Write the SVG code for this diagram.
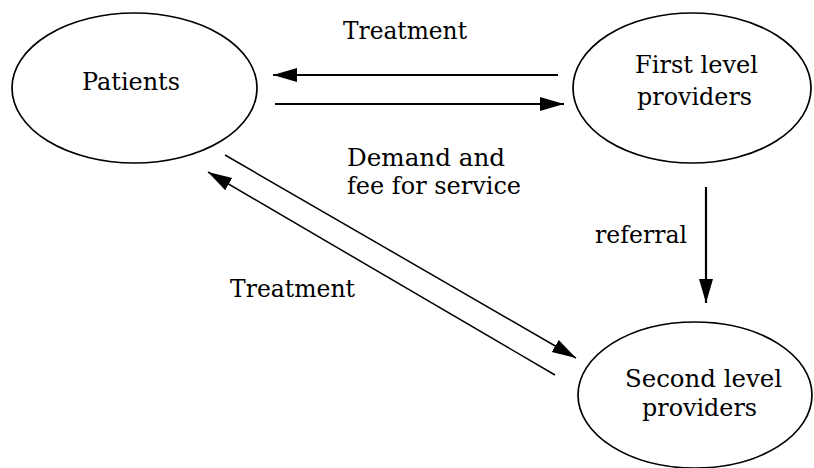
<svg xmlns="http://www.w3.org/2000/svg" width="814" height="468" viewBox="0 0 814 468">
<style>
.node{fill:#fff;stroke:#000;stroke-width:1.7}
.lbl{font-family:"DejaVu Serif","Liberation Serif",serif;font-size:24px;fill:#000}
.c{stroke:#000;fill:none}
.h{stroke-width:2.2}
.d{stroke-width:1.5}
</style>
<defs>
<marker id="ah" markerUnits="userSpaceOnUse" viewBox="0 0 24 16" markerWidth="24" markerHeight="16" refX="24" refY="8" orient="auto">
<path d="M0,1 L24,8 L0,15 z" fill="#000"/>
</marker>
</defs>
<rect width="814" height="468" fill="#fff"/>
<g id="patients">
<ellipse class="node" cx="134.5" cy="88" rx="122.5" ry="75"/>
<text class="lbl" x="82" y="90" textLength="98" lengthAdjust="spacingAndGlyphs">Patients</text>
</g>
<g id="first-level">
<ellipse class="node" cx="692" cy="88" rx="119" ry="75"/>
<text class="lbl" x="635" y="73" textLength="123" lengthAdjust="spacingAndGlyphs">First level</text>
<text class="lbl" x="637" y="105" textLength="115" lengthAdjust="spacingAndGlyphs">providers</text>
</g>
<g id="second-level">
<ellipse class="node" cx="695" cy="395" rx="117" ry="73"/>
<text class="lbl" x="625" y="387" textLength="157" lengthAdjust="spacingAndGlyphs">Second level</text>
<text class="lbl" x="642" y="416" textLength="115" lengthAdjust="spacingAndGlyphs">providers</text>
</g>
<g id="connectors">
<line class="c h" x1="558" y1="75" x2="273" y2="75" marker-end="url(#ah)"/>
<line class="c h" x1="275" y1="104" x2="564" y2="104" marker-end="url(#ah)"/>
<line class="c h" x1="706" y1="187" x2="706" y2="303" marker-end="url(#ah)"/>
<line class="c d" x1="225" y1="155" x2="576" y2="358" marker-end="url(#ah)"/>
<line class="c d" x1="555" y1="375" x2="208" y2="172" marker-end="url(#ah)"/>
<text class="lbl" x="343" y="39" textLength="124" lengthAdjust="spacingAndGlyphs">Treatment</text>
<text class="lbl" x="347" y="166" textLength="158" lengthAdjust="spacingAndGlyphs">Demand and</text>
<text class="lbl" x="347" y="194" textLength="174" lengthAdjust="spacingAndGlyphs">fee for service</text>
<text class="lbl" x="595" y="243" textLength="92" lengthAdjust="spacingAndGlyphs">referral</text>
<text class="lbl" x="230" y="297" textLength="125" lengthAdjust="spacingAndGlyphs">Treatment</text>
</g>
</svg>
